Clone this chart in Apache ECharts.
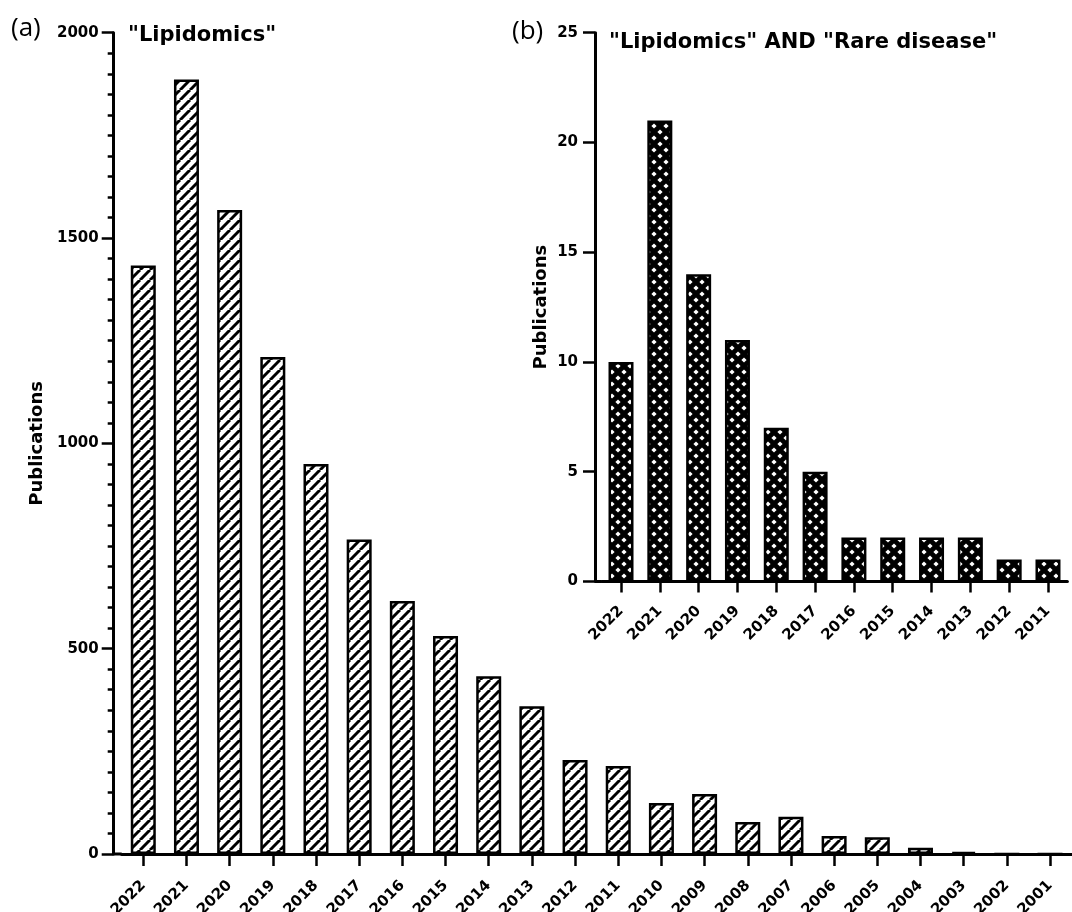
<!DOCTYPE html>
<html><head><meta charset="utf-8">
<script src="https://cdn.jsdelivr.net/npm/echarts@6/dist/echarts.min.js"></script>
<style>html,body{margin:0;padding:0;background:#fff}#c{width:1072px;height:912px}</style>
</head><body><div id="c"></div>
<script>
// ---- data ----
const yearsA = ['2022','2021','2020','2019','2018','2017','2016','2015','2014','2013','2012','2011','2010','2009','2008','2007','2006','2005','2004','2003','2002','2001'];
const pubsA  = [1433,1886,1568,1210,950,766,616,531,433,360,229,214,124,146,78,91,44,41,15,5,0,0];
const yearsB = ['2022','2021','2020','2019','2018','2017','2016','2015','2014','2013','2012','2011'];
const pubsB  = [10,21,14,11,7,5,2,2,2,2,1,1];
const titleA = '"Lipidomics"';
const titleB = '"Lipidomics" AND "Rare disease"';
const axisNameY = 'Publications';

// ---- patterns ----
function hatch(){
  const s = 10, c = document.createElement('canvas'); c.width = s; c.height = s;
  const g = c.getContext('2d');
  g.fillStyle = '#fff'; g.fillRect(0,0,s,s);
  g.strokeStyle = '#000'; g.lineWidth = 3;
  for (const k of [-s, 0, s]) { g.beginPath(); g.moveTo(k, s); g.lineTo(k + s, 0); g.stroke(); }
  return c;
}
function cross(){
  const s = 12, c = document.createElement('canvas'); c.width = s; c.height = s;
  const g = c.getContext('2d');
  g.fillStyle = '#000'; g.fillRect(0,0,s,s);
  g.fillStyle = '#fff';
  const r = 2.6;
  const pts = [[s/2,s/2],[0,0],[s,0],[0,s],[s,s]];
  for (const [x,y] of pts) { g.beginPath(); g.moveTo(x, y - r); g.lineTo(x + r, y); g.lineTo(x, y + r); g.lineTo(x - r, y); g.closePath(); g.fill(); }
  return c;
}

const F = 'DejaVu Sans';
const gA = {left: 121.7, right: 0.4, top: 32.7, bottom: 58};
const gB = {left: 601.6, right: 4.6, top: 32.7, bottom: 330.5};
const offA = 8, offB = 6.6;

const lbl = (m, rot) => ({color:'#000', fontFamily:F, fontWeight:'bold', fontSize:15, margin:m, rotate:rot||0, interval:0,
  formatter: v => String(v)});
const axLine = {show:true, lineStyle:{color:'#000', width:3}};

const chart = echarts.init(document.getElementById('c'), null, {renderer:'canvas'});
chart.setOption({
  backgroundColor:'#fff',
  animation:false,
  title:[
    {text:titleA, left:128, top:25, padding:0, textStyle:{fontFamily:F, fontWeight:'bold', fontSize:21, color:'#000'}},
    {text:titleB, left:609, top:32, padding:0, textStyle:{fontFamily:F, fontWeight:'bold', fontSize:21, color:'#000'}},
    {text:'(a)', left:11, top:16, padding:0, textStyle:{fontFamily:'Open Sans', fontWeight:'normal', fontSize:26, color:'#000'}},
    {text:'(b)', left:512, top:19, padding:0, textStyle:{fontFamily:'Open Sans', fontWeight:'normal', fontSize:26, color:'#000'}}
  ],
  grid:[
    Object.assign({containLabel:false, outerBoundsMode:'none'}, gA),
    Object.assign({containLabel:false, outerBoundsMode:'none'}, gB)
  ],
  xAxis:[
    {type:'category', gridIndex:0, data:yearsA, axisLine:axLine,
     axisTick:{show:true, alignWithLabel:true, length:12, lineStyle:{color:'#000', width:2.5}},
     axisLabel:lbl(29,45), splitLine:{show:false}},
    {type:'category', gridIndex:1, data:yearsB, axisLine:axLine,
     axisTick:{show:true, alignWithLabel:true, length:11, lineStyle:{color:'#000', width:2.5}},
     axisLabel:lbl(27,45), splitLine:{show:false}}
  ],
  yAxis:[
    {type:'value', gridIndex:0, min:0, max:2000, interval:500, offset:offA, axisLine:axLine,
     axisTick:{show:true, length:12, lineStyle:{color:'#000', width:2.5}},
     minorTick:{show:true, splitNumber:10, length:6, lineStyle:{color:'#000', width:2.5}},
     axisLabel:lbl(15), splitLine:{show:false},
     name:axisNameY, nameLocation:'middle', nameGap:51,
     nameTextStyle:{fontFamily:F, fontWeight:'bold', fontSize:18, color:'#000'}},
    {type:'value', gridIndex:1, min:0, max:25, interval:5, offset:offB, axisLine:axLine,
     axisTick:{show:true, length:12, lineStyle:{color:'#000', width:2.5}},
     axisLabel:lbl(17), splitLine:{show:false},
     name:axisNameY, nameLocation:'middle', nameGap:45,
     nameTextStyle:{fontFamily:F, fontWeight:'bold', fontSize:18, color:'#000'}}
  ],
  series:[
    {type:'bar', xAxisIndex:0, yAxisIndex:0, data:pubsA, barWidth:25,
     itemStyle:{color:{image:hatch(), repeat:'repeat'}, borderColor:'#000', borderWidth:2.5}},
    {type:'bar', xAxisIndex:1, yAxisIndex:1, data:pubsB, barWidth:25,
     itemStyle:{color:{image:cross(), repeat:'repeat'}, borderColor:'#000', borderWidth:2.5}}
  ],
  graphic:[
    {type:'line', shape:{x1:gA.left - offA, y1:912 - gA.bottom, x2:gA.left, y2:912 - gA.bottom}, style:{stroke:'#000', lineWidth:3}},
    {type:'line', shape:{x1:gB.left - offB, y1:912 - gB.bottom, x2:gB.left, y2:912 - gB.bottom}, style:{stroke:'#000', lineWidth:3}}
  ]
});
</script>
</body></html>
